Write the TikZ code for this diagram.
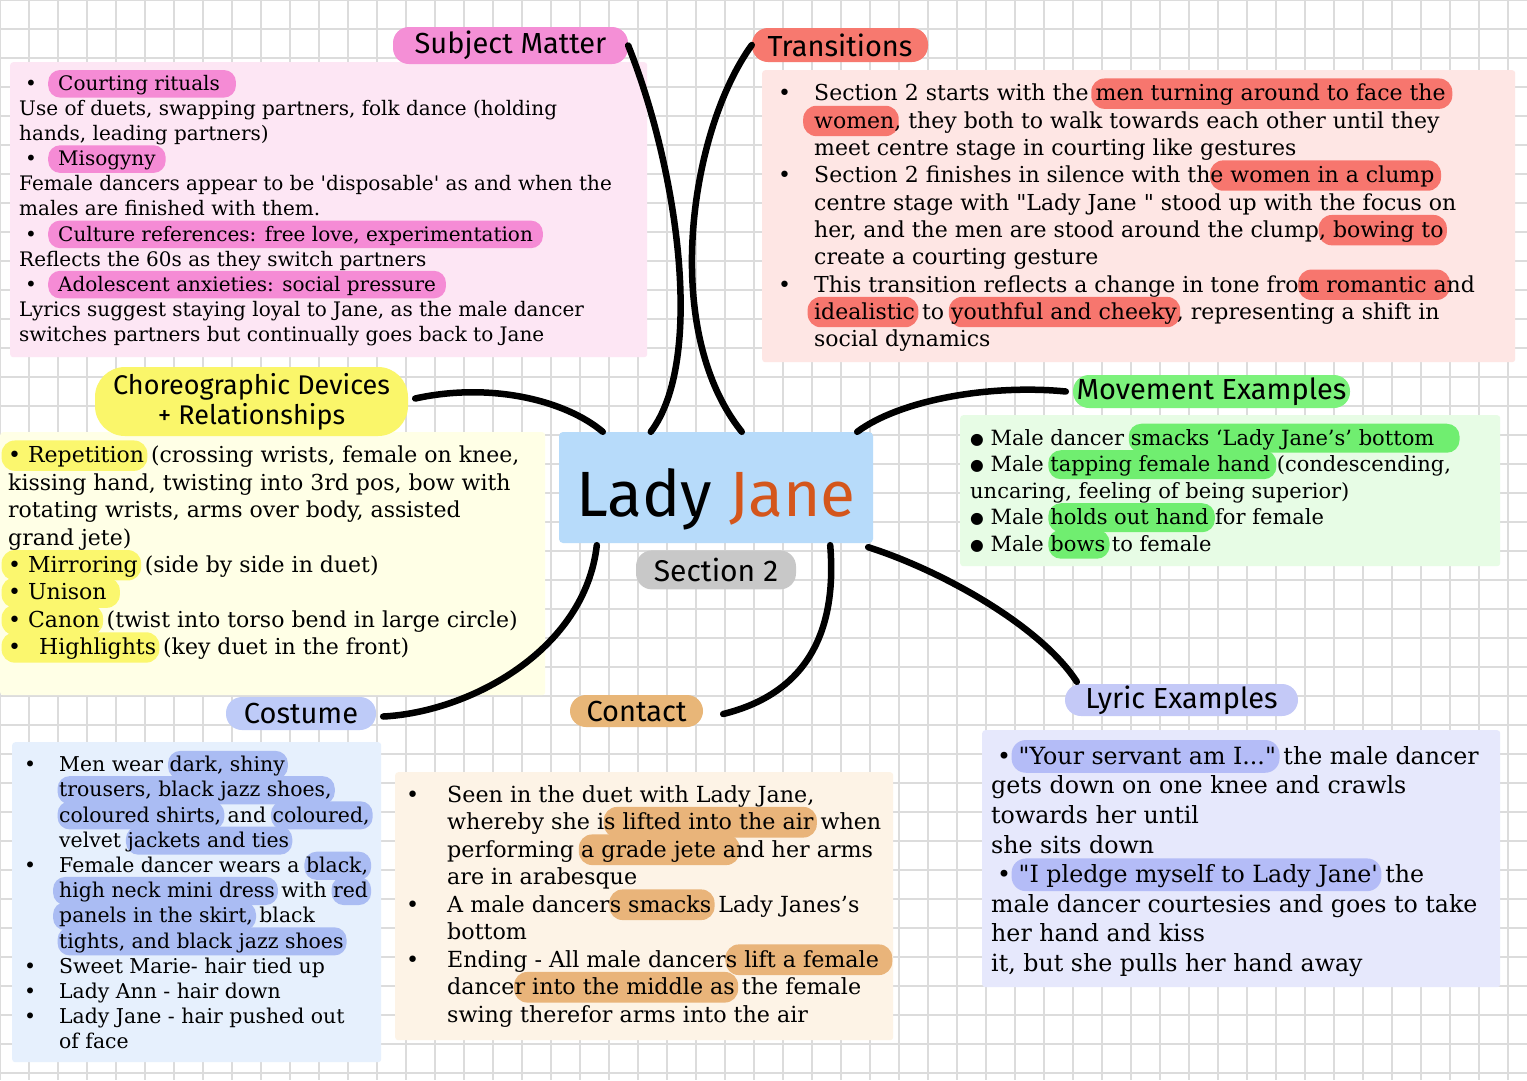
\documentclass[tikz,border=0pt]{standalone}
\usepackage{fontspec}
\setmainfont{DejaVu Serif}
\newfontfamily\handfont{Fira Sans}
\newfontfamily\symfont{DejaVu Sans}
\usepackage{xcolor}
\usepackage{tikz}
\usetikzlibrary{positioning}

\definecolor{gridgray}{HTML}{DCDCDC}
\definecolor{subjfill}{HTML}{FDE6F4}
\definecolor{subjpink}{HTML}{F48FD6}
\definecolor{subjhl}{HTML}{F58BD5}
\definecolor{transfill}{HTML}{FEE6E4}
\definecolor{transred}{HTML}{F7796F}
\definecolor{transhl}{HTML}{F7766E}
\definecolor{choreofill}{HTML}{FFFFE6}
\definecolor{choreoyel}{HTML}{FAF66A}
\definecolor{choreohl}{HTML}{FBF76E}
\definecolor{movefill}{HTML}{E7FCE5}
\definecolor{movegreen}{HTML}{7CF27C}
\definecolor{movehl}{HTML}{70EE70}
\definecolor{costfill}{HTML}{E6F0FD}
\definecolor{costblue}{HTML}{BECBF8}
\definecolor{costhl}{HTML}{AABCF3}
\definecolor{contfill}{HTML}{FDF3E6}
\definecolor{conttan}{HTML}{E8B678}
\definecolor{conthl}{HTML}{E9B47A}
\definecolor{lyrfill}{HTML}{E6E8FC}
\definecolor{lyrpill}{HTML}{C4C9F7}
\definecolor{lyrhl}{HTML}{B4BCF7}
\definecolor{ladyblue}{HTML}{B7DBFA}
\definecolor{janeorange}{HTML}{D4561C}
\definecolor{sectgray}{HTML}{C8C8C8}

\newsavebox{\hltbox}
\newlength{\hltwd}
\NewDocumentCommand{\hlt}{O{0.08em} O{0.15em} m m}{\sbox{\hltbox}{#4}\setlength{\hltwd}{\wd\hltbox}%
\tikz[overlay,baseline=0pt]\fill[#3,rounded corners=0.6em] (-#1,-0.36em) rectangle (\hltwd+#2,1.02em);%
\usebox{\hltbox}}
\newcommand{\bul}[1]{\makebox[#1][l]{•}}
\newcommand{\bigdot}{\raisebox{0.05em}{\scalebox{0.75}{\symfont●}}}

\begin{document}
\begin{tikzpicture}[x=1pt,y=-1pt,
  gridline/.style={gridgray, line width=1.3pt},
  panel/.style={anchor=north west, inner sep=0pt, rounded corners=3pt},
  body/.style={anchor=north west, inner sep=0pt, align=left},
  pill/.style={inner sep=0pt, rounded corners=16pt, font=\handfont\fontsize{29}{32}\selectfont},
  link/.style={line width=6.5pt, line cap=round}]
\useasboundingbox (0,0) rectangle (1527,1080);
\fill[white] (0,0) rectangle (1527,1080);
\foreach \gx in {0,29,...,1527} \draw[gridline] (\gx,0) -- (\gx,1080);
\foreach \gy in {0,29,...,1080} \draw[gridline] (0,\gy) -- (1527,\gy);

\node[panel, fill=subjfill, minimum width=637pt, minimum height=295pt] (subjbox) at (10,62) {};
\node[panel, fill=transfill, minimum width=753pt, minimum height=292pt] (transbox) at (762,70) {};
\node[panel, fill=choreofill, minimum width=545pt, minimum height=263pt] (choreobox) at (0,432) {};
\node[panel, fill=movefill, minimum width=540pt, minimum height=151pt] (movebox) at (960,415) {};
\node[panel, fill=costfill, minimum width=369pt, minimum height=320pt] (costbox) at (12,742) {};
\node[panel, fill=contfill, minimum width=498pt, minimum height=268pt] (contbox) at (395,772) {};
\node[panel, fill=lyrfill, minimum width=518pt, minimum height=257pt] (lyrbox) at (982,730) {};

\node[body, font=\fontsize{20}{25.1}\selectfont] (subjtext) at (19,75) {%
\hspace*{6pt}\bul{33pt}\hlt[0.5em][0.8em]{subjhl}{Courting rituals}\\
Use of duets, swapping partners, folk dance (holding\\
hands, leading partners)\\
\hspace*{6pt}\bul{33pt}\hlt[0.5em][0.5em]{subjhl}{Misogyny}\\
Female dancers appear to be \textquotesingle disposable\textquotesingle{} as and when the\\
males are finished with them.\\
\hspace*{6pt}\bul{33pt}\hlt[0.5em][0.5em]{subjhl}{Culture references: free love, experimentation}\\
Reflects the 60s as they switch partners\\
\hspace*{6pt}\bul{33pt}\hlt[0.5em][0.5em]{subjhl}{Adolescent anxieties: social pressure}\\
Lyrics suggest staying loyal to Jane, as the male dancer\\
switches partners but continually goes back to Jane};

\node[body, font=\fontsize{22}{27.3}\selectfont] (transtext) at (778,84) {%
\bul{36pt}Section 2 starts with the \hlt[0.2em][0.3em]{transhl}{men turning around to face the}\\
\hspace*{36pt}\hlt[0.5em][0.2em]{transhl}{women}, they both to walk towards each other until they\\
\hspace*{36pt}meet centre stage in courting like gestures\\
\bul{36pt}Section 2 finishes in silence with th\hlt[0.02em][0.3em]{transhl}{e women in a clump}\\
\hspace*{36pt}centre stage with \textquotedbl Lady Jane \textquotedbl{} stood up with the focus on\\
\hspace*{36pt}her, and the men are stood around the clump\hlt[0.02em]{transhl}{, bowing to}\\
\hspace*{36pt}create a courting gesture\\
\bul{36pt}This transition reflects a change in tone fro\hlt[0.02em]{transhl}{m romantic a}nd\\
\hspace*{36pt}\hlt[0.3em]{transhl}{idealistic} to \hlt[0.1em]{transhl}{youthful and cheeky}, representing a shift in\\
\hspace*{36pt}social dynamics};

\node[body, font=\fontsize{22}{27.4}\selectfont] (choreotext) at (8,446) {%
\hlt[0.3em]{choreohl}{• Repetition} (crossing wrists, female on knee,\\
kissing hand, twisting into 3rd pos, bow with\\
rotating wrists, arms over body, assisted\\
grand jete)\\
\hlt[0.3em]{choreohl}{• Mirroring} (side by side in duet)\\
\hlt[0.3em][0.6em]{choreohl}{• Unison}\\
\hlt[0.3em]{choreohl}{• Canon} (twist into torso bend in large circle)\\
\hlt[0.3em]{choreohl}{•\hspace{18pt}Highlights} (key duet in the front)};

\node[body, font=\fontsize{21}{26.5}\selectfont] (movetext) at (970,429) {%
\bigdot{} Male dancer \hlt[0.1em][1.2em]{movehl}{smacks ‘Lady Jane’s’ bottom}\\
\bigdot{} Male \hlt[0.1em][0.3em]{movehl}{tapping female hand} (condescending,\\
uncaring, feeling of being superior)\\
\bigdot{} Male \hlt[0.1em][0.3em]{movehl}{holds out hand} for female\\
\bigdot{} Male \hlt[0.1em][0.2em]{movehl}{bows} to female};

\node[body, font=\fontsize{20.4}{25.2}\selectfont] (costtext) at (24,756) {%
\bul{35pt}Men wear \hlt{costhl}{dark, shiny}\\
\hspace*{35pt}\hlt{costhl}{trousers, black jazz shoes,}\\
\hspace*{35pt}\hlt{costhl}{coloured shirts,} and \hlt{costhl}{coloured,}\\
\hspace*{35pt}velvet \hlt{costhl}{jackets and ties}\\
\bul{35pt}Female dancer wears a \hlt{costhl}{black,}\\
\hspace*{35pt}\hlt[0.3em]{costhl}{high neck mini dress} with \hlt{costhl}{red}\\
\hspace*{35pt}\hlt[0.3em]{costhl}{panels in the skirt,} black\\
\hspace*{35pt}\hlt{costhl}{tights, and black jazz shoes}\\
\bul{35pt}Sweet Marie- hair tied up\\
\bul{35pt}Lady Ann - hair down\\
\bul{35pt}Lady Jane - hair pushed out\\
\hspace*{35pt}of face};

\node[body, font=\fontsize{22.2}{27.5}\selectfont] (conttext) at (406,785) {%
\bul{41pt}Seen in the duet with Lady Jane,\\
\hspace*{41pt}whereby she i\hlt[0.02em]{conthl}{s lifted into the air} when\\
\hspace*{41pt}performing \hlt[0.1em]{conthl}{a grade jete a}nd her arms\\
\hspace*{41pt}are in arabesque\\
\bul{41pt}A male dancer\hlt[0.02em]{conthl}{s smacks} Lady Janes’s\\
\hspace*{41pt}bottom\\
\bul{41pt}Ending - All male dancer\hlt[0.02em][0.6em]{conthl}{s lift a female}\\
\hspace*{41pt}dance\hlt[0.02em]{conthl}{r into the middle as} the female\\
\hspace*{41pt}swing therefor arms into the air};

\node[body, font=\fontsize{23.7}{29.6}\selectfont] (lyrtext) at (991,746) {%
\hspace*{6pt}• \hlt[0.3em]{lyrhl}{\textquotedbl Your servant am I...\textquotedbl} the male dancer\\
gets down on one knee and crawls\\
towards her until\\
she sits down\\
\hspace*{6pt}• \hlt[0.3em]{lyrhl}{\textquotedbl I pledge myself to Lady Jane\textquotesingle} the\\
male dancer courtesies and goes to take\\
her hand and kiss\\
it, but she pulls her hand away};

\node[pill, fill=subjpink, minimum width=235pt, minimum height=37pt] (subjpill) at (510.5,45.5) {Subject Matter};
\node[pill, fill=transred, minimum width=176pt, minimum height=34pt] (transpill) at (840,45) {Transitions};
\node[pill, fill=choreoyel, rounded corners=30pt, minimum width=313pt, minimum height=69pt, align=center, font=\handfont\fontsize{27}{30}\selectfont] (choreopill) at (251.5,401.5) {Choreographic Devices\\+ Relationships};
\node[pill, fill=movegreen, minimum width=277pt, minimum height=33pt] (movepill) at (1211.5,391.5) {Movement Examples};
\node[pill, fill=costblue, minimum width=150pt, minimum height=33pt] (costpill) at (301,713.5) {Costume};
\node[pill, fill=conttan, minimum width=133pt, minimum height=32pt] (contpill) at (636.5,711) {Contact};
\node[pill, fill=lyrpill, minimum width=233pt, minimum height=32pt] (lyrpill) at (1181.5,700) {Lyric Examples};

\node[fill=ladyblue, rounded corners=4pt, inner sep=0pt, minimum width=314pt, minimum height=111pt, text height=57pt, text depth=0pt, font=\handfont\fontsize{64}{70}\selectfont] (ladybox) at (716,487.5) {Lady \textcolor{janeorange}{Jane}};
\node[pill, fill=sectgray, minimum width=160pt, minimum height=39pt, font=\handfont\fontsize{30}{32}\selectfont, below=7pt of ladybox] (sectpill) {Section 2};

\draw[link] (subjpill.east) .. controls (678,170) and (705,360) .. ([xshift=92pt]ladybox.north west);
\draw[link] (transpill.west) .. controls (690,130) and (660,330) .. ([xshift=183pt]ladybox.north west);
\draw[link] ([xshift=7pt,yshift=3pt]choreopill.east) .. controls (490,382) and (565,400) .. ([xshift=44pt]ladybox.north west);
\draw[link] ([xshift=-7pt]movepill.west) .. controls (990,384) and (900,400) .. ([xshift=-16pt]ladybox.north east);
\draw[link] ([xshift=38pt,yshift=-2pt]ladybox.south west) .. controls (585,650) and (470,712) .. ([xshift=7pt,yshift=-3pt]costpill.east);
\draw[link] ([xshift=-43pt,yshift=-2pt]ladybox.south east) .. controls (838,640) and (800,695) .. ([xshift=20pt,yshift=-3pt]contpill.east);
\draw[link] ([xshift=-5pt,yshift=-4pt]ladybox.south east) .. controls (940,570) and (1040,625) .. ([xshift=12pt,yshift=2pt]lyrpill.north west);
\end{tikzpicture}
\end{document}
